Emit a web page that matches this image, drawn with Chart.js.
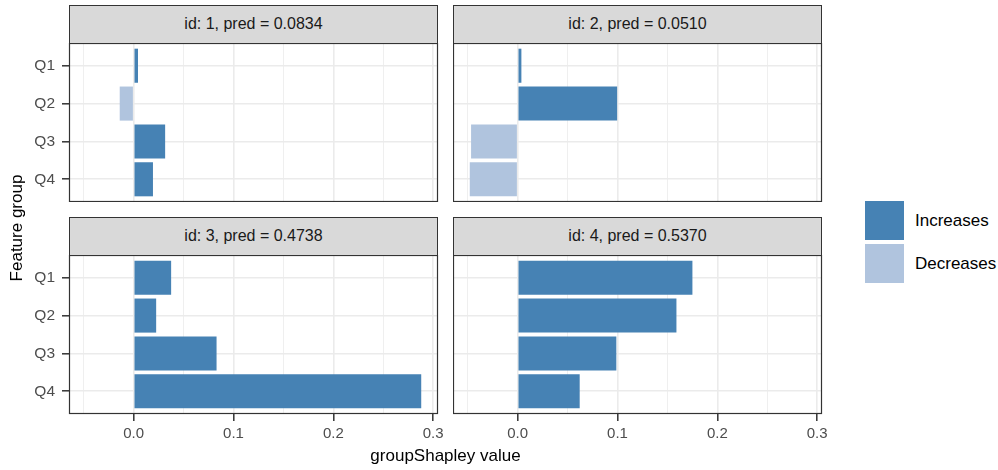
<!DOCTYPE html>
<html lang="en">
<head>
<meta charset="UTF-8">
<title>groupShapley</title>
<script src="https://cdn.jsdelivr.net/npm/chart.js@4"></script>
<style>
    body { margin: 0; width: 998px; height: 470px; background: #fff; position: relative; overflow: hidden; font-family: "Liberation Sans", Arial, sans-serif; }
    canvas { position: absolute; }
    .strip { position: absolute; background: #d9d9d9; border: 1px solid #333; box-sizing: border-box; text-align: center; color: #1a1a1a; font-size: 16px; line-height: 36px; }
    .title { position: absolute; color: #000; font-size: 17px; white-space: nowrap; }
    .key { position: absolute; width: 39px; height: 39px; }
    .keylab { position: absolute; font-size: 17px; color: #000; line-height: 39px; }
</style>
</head>
<body>
<div id="root"></div>
<div class="title" style="width:445px;text-align:center;top:446px;left:223px;">groupShapley value</div>
<div class="title" style="left:-43px;top:218px;width:120px;text-align:center;transform:rotate(-90deg);">Feature group</div>

<div class="key" style="left:865px;top:201px;background:#4682B4;"></div>
<div class="key" style="left:865px;top:244px;background:#B0C4DE;"></div>
<div class="keylab" style="left:915px;top:201px;">Increases</div>
<div class="keylab" style="left:915px;top:244px;">Decreases</div>

<script>
    const categories = ['Q1', 'Q2', 'Q3', 'Q4'];
    const ids = [1, 2, 3, 4];
    const preds = ['0.0834', '0.0510', '0.4738', '0.5370'];

    // groupShapley values per id, in order Q1..Q4
    const shap1 = [0.0043, -0.014, 0.0315, 0.0193];
    const shap2 = [0.0037, 0.0996, -0.0467, -0.048];
    const shap3 = [0.0375, 0.0225, 0.083, 0.288];
    const shap4 = [0.175, 0.159, 0.0988, 0.0621];

    const xTicks = [-0.05, 0, 0.05, 0.1, 0.15, 0.2, 0.25, 0.3];
    const xMin = -0.0648, xMax = 0.3048;

    const colors = { inc: '#4682B4', dec: '#B0C4DE' };

    const isMajor = v => Math.abs(v * 10 - Math.round(v * 10)) < 1e-6;

    // panel border drawn around the plot area
    const borderPlugin = {
        id: 'panelBorder',
        afterDraw(chart) {
            const a = chart.chartArea, ctx = chart.ctx;
            ctx.save();
            ctx.strokeStyle = '#333333';
            ctx.lineWidth = 1.2;
            ctx.strokeRect(a.left + 0.5, a.top + 0.5, a.right - a.left - 1, a.bottom - a.top - 1);
            ctx.restore();
        }
    };

    // extra canvas room on the right so the last tick label is not clipped
    const padR = 14;
    const panels = [
        { vals: shap1, left: 0, top: 43, w: 438, h: 159, showY: true, showX: false, stripLeft: 69 },
        { vals: shap2, left: 453, top: 43, w: 369, h: 159, showY: false, showX: false, stripLeft: 453 },
        { vals: shap3, left: 0, top: 255, w: 438, h: 199, showY: true, showX: true, stripLeft: 69 },
        { vals: shap4, left: 453, top: 255, w: 369, h: 199, showY: false, showX: true, stripLeft: 453 }
    ];

    const root = document.getElementById('root');

    panels.forEach((p, k) => {
        const strip = document.createElement('div');
        strip.className = 'strip';
        strip.style.left = p.stripLeft + 'px';
        strip.style.top = (p.top - 38) + 'px';
        strip.style.width = '369px';
        strip.style.height = '39px';
        strip.textContent = 'id: ' + ids[k] + ', pred = ' + preds[k];
        root.appendChild(strip);

        const canvas = document.createElement('canvas');
        canvas.width = p.w + padR;
        canvas.height = p.h;
        canvas.style.left = p.left + 'px';
        canvas.style.top = p.top + 'px';
        root.appendChild(canvas);

        const incData = [], decData = [];
        p.vals.forEach((v, i) => {
            if (v >= 0) incData.push({ x: v, y: i + 1 });
            else decData.push({ x: v, y: i + 1 });
        });

        new Chart(canvas.getContext('2d'), {
            type: 'bar',
            data: {
                datasets: [
                    { label: 'Increases', data: incData, backgroundColor: colors.inc, stack: 's' },
                    { label: 'Decreases', data: decData, backgroundColor: colors.dec, stack: 's' }
                ]
            },
            plugins: [borderPlugin],
            options: {
                indexAxis: 'y',
                responsive: false,
                animation: false,
                categoryPercentage: 0.9,
                barPercentage: 1,
                layout: { padding: { left: 0, top: 0, bottom: 0, right: padR } },
                plugins: { legend: { display: false }, tooltip: { enabled: false } },
                scales: {
                    x: {
                        type: 'linear',
                        stacked: true,
                        offset: false,
                        min: xMin,
                        max: xMax,
                        border: { display: false },
                        afterBuildTicks: s => { s.ticks = xTicks.map(v => ({ value: v })); },
                        afterFit: s => { s.height = p.showX ? 40 : 0; s.paddingLeft = 0; s.paddingRight = 0; },
                        grid: {
                            offset: false,
                            color: '#EBEBEB',
                            lineWidth: c => isMajor(c.tick.value) ? 1.6 : 0.8,
                            drawTicks: p.showX,
                            tickLength: 7,
                            tickColor: c => isMajor(c.tick.value) ? '#333333' : 'rgba(0,0,0,0)',
                            tickWidth: 1.5
                        },
                        ticks: {
                            display: p.showX,
                            autoSkip: false,
                            maxRotation: 0,
                            padding: 4,
                            color: '#4D4D4D',
                            font: { family: '"Liberation Sans", Arial, sans-serif', size: 15 },
                            callback: v => isMajor(v) ? v.toFixed(1) : ''
                        }
                    },
                    y: {
                        type: 'linear',
                        stacked: true,
                        reverse: true,
                        offset: false,
                        min: 0.4,
                        max: 4.6,
                        border: { display: false },
                        afterBuildTicks: s => { s.ticks = categories.map((c, i) => ({ value: i + 1 })); },
                        afterFit: s => { s.width = p.showY ? 69 : 0; s.paddingTop = 0; s.paddingBottom = 0; },
                        grid: {
                            offset: false,
                            color: '#EBEBEB',
                            lineWidth: 1.6,
                            drawTicks: p.showY,
                            tickLength: 7,
                            tickColor: '#333333',
                            tickWidth: 1.5
                        },
                        ticks: {
                            display: p.showY,
                            autoSkip: false,
                            padding: 7,
                            color: '#4D4D4D',
                            font: { family: '"Liberation Sans", Arial, sans-serif', size: 15.5 },
                            callback: v => categories[Math.round(v) - 1]
                        }
                    }
                }
            }
        });
    });
</script>
</body>
</html>
